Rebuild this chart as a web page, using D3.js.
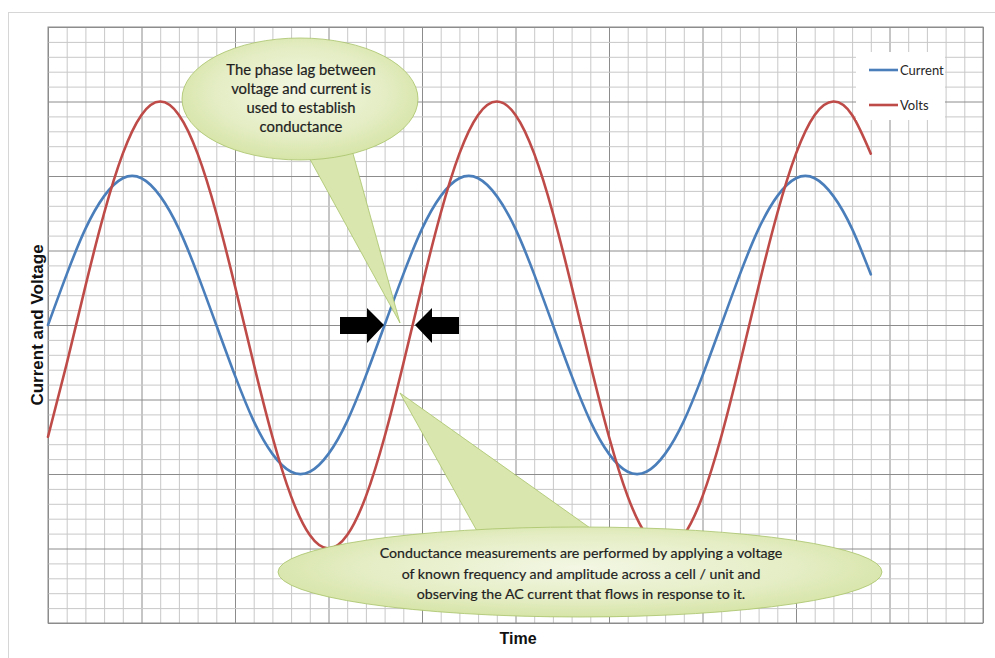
<!DOCTYPE html>
<html><head><meta charset="utf-8">
<script src="https://cdn.jsdelivr.net/npm/d3@7/dist/d3.min.js"></script>
<style>
html,body{margin:0;padding:0;background:#fff;}
svg{display:block;}
</style></head>
<body>
<svg id="chart" width="995" height="658"></svg>
<script>
// Time in degrees of phase (no tick labels shown on the chart)
const time = [0,20,40,60,80,100,120,140,160,180,200,220,240,260,280,300,320,340,
  360,380,400,420,440,460,480,500,520,540,560,580,600,620,640,660,680,700,
  720,740,760,780,800,820,840,860,880];
const current = [0,0.68,1.29,1.73,1.97,1.97,1.73,1.29,0.68,0,-0.68,-1.29,-1.73,-1.97,-1.97,-1.73,-1.29,-0.68,
  0,0.68,1.29,1.73,1.97,1.97,1.73,1.29,0.68,0,-0.68,-1.29,-1.73,-1.97,-1.97,-1.73,-1.29,-0.68,
  0,0.68,1.29,1.73,1.97,1.97,1.73,1.29,0.68];
const volts = [-1.5,-0.52,0.52,1.5,2.30,2.82,3,2.82,2.30,1.5,0.52,-0.52,-1.5,-2.30,-2.82,-3,-2.82,-2.30,
  -1.5,-0.52,0.52,1.5,2.30,2.82,3,2.82,2.30,1.5,0.52,-0.52,-1.5,-2.30,-2.82,-3,-2.82,-2.30,
  -1.5,-0.52,0.52,1.5,2.30,2.82,3,2.82,2.30];
const seriesNames = ["Current","Volts"];
const seriesColors = ["#4a7ebb","#be4b48"];
const xTitle = "Time";
const yTitle = "Current and Voltage";
const note1 = ["The phase lag between","voltage and current is","used to establish","conductance"];
const note2 = ["Conductance measurements are performed by applying a voltage",
  "of known frequency and amplitude across a cell / unit and",
  "observing the AC current that flows in response to it."];

const svg = d3.select("#chart");
const L = 48, T = 27, R = 983, B = 623;
const x = d3.scaleLinear().domain([0,1000]).range([L,R]);
const y = d3.scaleLinear().domain([-4,4]).range([B,T]);

// outer chart border
svg.append("rect").attr("x",8.5).attr("y",12.5).attr("width",1000).attr("height",700)
  .attr("fill","#fff").attr("stroke","#d6d6d6");

// grid via axes
const gx = svg.append("g").attr("transform",`translate(0,${B})`)
  .call(d3.axisBottom(x).ticks(50).tickSize(-(B-T)).tickFormat(""));
gx.select(".domain").remove();
gx.selectAll(".tick line").attr("stroke",d => d%100===0 ? "#8c8c8c" : "#c8c8c8").attr("stroke-width",1);
gx.selectAll(".tick").filter(d => d%100===0).raise();
const gy = svg.append("g").attr("transform",`translate(${L},0)`)
  .call(d3.axisLeft(y).ticks(40).tickSize(-(R-L)).tickFormat(""));
gy.select(".domain").remove();
const isMaj = d => Math.abs(d-Math.round(d))<1e-6;
gy.selectAll(".tick line").attr("stroke",d => isMaj(d) ? "#8c8c8c" : "#c8c8c8").attr("stroke-width",1);
gy.selectAll(".tick").filter(isMaj).raise();
svg.append("rect").attr("x",L).attr("y",T).attr("width",R-L).attr("height",B-T)
  .attr("fill","none").attr("stroke","#8c8c8c");

// series
const line = d3.line().curve(d3.curveNatural);
[current, volts].forEach((vals,i) => {
  svg.append("path")
    .attr("d", line(time.map((t,j)=>[x(t), y(vals[j])])))
    .attr("fill","none").attr("stroke",seriesColors[i]).attr("stroke-width",2.6)
    .attr("stroke-linejoin","round").attr("stroke-linecap","round");
});

// legend
const lg = svg.append("g");
lg.append("rect").attr("x",856).attr("y",52).attr("width",89).attr("height",68).attr("fill","#fff");
seriesNames.forEach((n,i) => {
  const yy = 70 + i*35;
  lg.append("line").attr("x1",869).attr("x2",898).attr("y1",yy).attr("y2",yy)
    .attr("stroke",seriesColors[i]).attr("stroke-width",2.6);
  lg.append("text").attr("x",900).attr("y",yy+4.5).text(n)
    .attr("font-family","Lato, 'Open Sans', sans-serif").attr("font-size",13).attr("fill","#262626");
});

// axis titles
svg.append("text").attr("x",518).attr("y",644).attr("text-anchor","middle")
  .attr("font-family","'Liberation Sans', Arial, sans-serif").attr("font-weight","bold")
  .attr("font-size",16).attr("fill","#111").text(xTitle);
svg.append("text").attr("transform","translate(43,325) rotate(-90)").attr("text-anchor","middle")
  .attr("font-family","'Liberation Sans', Arial, sans-serif").attr("font-weight","bold")
  .attr("font-size",17).attr("fill","#111").text(yTitle);

// callout gradient
const defs = svg.append("defs");
const rg = defs.append("radialGradient").attr("id","bub").attr("cx","50%").attr("cy","45%").attr("r","60%");
rg.append("stop").attr("offset","0%").attr("stop-color","#f3f7e4");
rg.append("stop").attr("offset","60%").attr("stop-color","#e4edc4");
rg.append("stop").attr("offset","100%").attr("stop-color","#d3e2a0");
const stroke = "#a8c36a";

// arrows
function arrow(tipX, dir){
  const cy = 325;
  const hx = tipX - dir*17, sx = tipX - dir*44;
  const p = [[tipX,cy],[hx,cy-17],[hx,cy-8],[sx,cy-8],[sx,cy+9],[hx,cy+9],[hx,cy+18]];
  svg.append("path").attr("d","M"+p.map(d=>d.join(",")).join("L")+"Z").attr("fill","#000");
}
arrow(384, 1);
arrow(415, -1);

// callout 1 (top)
const c1 = svg.append("g");
c1.append("path").attr("d","M306,152 L400,323 L352,150 Z").attr("fill","#d9e6ad").attr("stroke",stroke).attr("stroke-width",0.8);
c1.append("ellipse").attr("cx",300).attr("cy",99).attr("rx",118).attr("ry",61)
  .attr("fill","url(#bub)").attr("stroke",stroke).attr("stroke-width",0.8);
note1.forEach((s,i)=>{
  c1.append("text").attr("x",301).attr("y",75+i*19).attr("text-anchor","middle")
    .attr("font-family","Lato, 'Open Sans', sans-serif").attr("font-size",14.8).attr("fill","#1e1e1e")
    .attr("stroke","#1e1e1e").attr("stroke-width",0.2).text(s);
});

// callout 2 (bottom)
const c2 = svg.append("g");
c2.append("path").attr("d","M482,540 L400,393 L600,535 Z").attr("fill","#d9e6ad").attr("stroke",stroke).attr("stroke-width",0.8);
c2.append("ellipse").attr("cx",580).attr("cy",572).attr("rx",302).attr("ry",45)
  .attr("fill","url(#bub)").attr("stroke",stroke).attr("stroke-width",0.8);
note2.forEach((s,i)=>{
  c2.append("text").attr("x",581).attr("y",558+i*20.5).attr("text-anchor","middle")
    .attr("font-family","Lato, 'Open Sans', sans-serif").attr("font-size",14.2).attr("fill","#1e1e1e")
    .attr("stroke","#1e1e1e").attr("stroke-width",0.2).text(s);
});
</script>
</body></html>
